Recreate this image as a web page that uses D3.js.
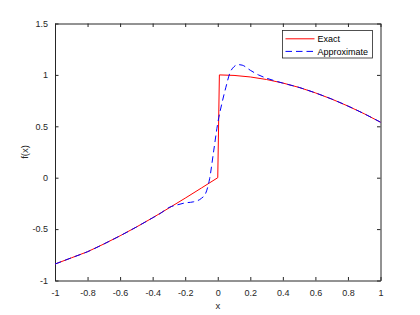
<!DOCTYPE html>
<html>
<head>
<meta charset="utf-8">
<script src="https://cdn.jsdelivr.net/npm/d3@7"></script>
<style>
  body { margin: 0; background: #fff; }
  text { font-family: "Liberation Sans", Arial, sans-serif; }
</style>
</head>
<body>
<div id="chart"></div>
<script>
// values
var exactX = [-1, -0.9, -0.8, -0.7, -0.6, -0.5, -0.4, -0.3, -0.2, -0.1, 0,
              0.01, 0.1, 0.2, 0.3, 0.4, 0.5, 0.6, 0.7, 0.8, 0.9, 1];
var exactY = [-0.84, -0.78, -0.72, -0.645, -0.565, -0.48, -0.39, -0.295, -0.199, -0.1, 0,
              1, 0.995, 0.98, 0.955, 0.921, 0.878, 0.825, 0.765, 0.697, 0.622, 0.54];

var approxX = [-1, -0.9, -0.8, -0.7, -0.6, -0.5, -0.4, -0.35, -0.3, -0.25, -0.2, -0.15, -0.1,
               -0.075, -0.05, -0.025, 0, 0.025, 0.05, 0.075, 0.1, 0.125, 0.15, 0.2, 0.25,
               0.3, 0.35, 0.4, 0.5, 0.6, 0.7, 0.8, 0.9, 1];
var approxY = [-0.84, -0.78, -0.72, -0.645, -0.565, -0.48, -0.39, -0.345, -0.29, -0.265, -0.245, -0.235, -0.2,
               -0.155, -0.01, 0.26, 0.53, 0.72, 0.88, 1.02, 1.08, 1.1, 1.095, 1.045, 1.0,
               0.968, 0.943, 0.92, 0.878, 0.825, 0.765, 0.697, 0.622, 0.54];

var xTicks = [-1, -0.8, -0.6, -0.4, -0.2, 0, 0.2, 0.4, 0.6, 0.8, 1];
var yTicks = [-1, -0.5, 0, 0.5, 1, 1.5];
var seriesNames = ["Exact", "Approximate"];

var margin = {top: 23.5, right: 39.5, bottom: 34.5, left: 55},
    width = 420 - margin.left - margin.right,
    height = 315 - margin.top - margin.bottom;

var axisColor = "#262626";

var svg = d3.select("#chart").append("svg")
    .attr("width", 420)
    .attr("height", 315);

var g = svg.append("g")
    .attr("transform", "translate(" + margin.left + "," + margin.top + ")");

var x = d3.scaleLinear().domain([-1, 1]).range([0, width]);
var y = d3.scaleLinear().domain([-1, 1.5]).range([height, 0]);

// axes (ticks inward, box on)
var fmt = function(d) { return String(d); };
g.append("g")
    .attr("transform", "translate(0," + height + ")")
    .call(d3.axisBottom(x).tickValues(xTicks).tickFormat(fmt).tickSizeInner(-3.5).tickSizeOuter(0).tickPadding(9));
g.append("g")
    .call(d3.axisTop(x).tickValues(xTicks).tickFormat("").tickSizeInner(-3.5).tickSizeOuter(0));
g.append("g")
    .call(d3.axisLeft(y).tickValues(yTicks).tickFormat(fmt).tickSizeInner(-3.5).tickSizeOuter(0).tickPadding(7));
g.append("g")
    .attr("transform", "translate(" + width + ",0)")
    .call(d3.axisRight(y).tickValues(yTicks).tickFormat("").tickSizeInner(-3.5).tickSizeOuter(0));

g.selectAll(".domain").attr("stroke", axisColor).attr("stroke-width", 1);
g.selectAll(".tick line").attr("stroke", axisColor);
g.selectAll(".tick text").attr("fill", axisColor).style("font-size", "9px");

var exactLine = d3.line()
    .x(function(d) { return x(d[0]); })
    .y(function(d) { return y(d[1]); });

var approxLine = d3.line()
    .x(function(d) { return x(d[0]); })
    .y(function(d) { return y(d[1]); })
    .curve(d3.curveMonotoneX);

var exactData = exactX.map(function(v, i) { return [v, exactY[i]]; });
var approxData = approxX.map(function(v, i) { return [v, approxY[i]]; });

g.append("path")
    .datum(exactData)
    .attr("d", exactLine)
    .attr("fill", "none")
    .attr("stroke", "#ff0000")
    .attr("stroke-width", 1);

g.append("path")
    .datum(approxData)
    .attr("d", approxLine)
    .attr("fill", "none")
    .attr("stroke", "#0000ff")
    .attr("stroke-width", 1)
    .attr("stroke-dasharray", "6.5,4");

// axis labels
svg.append("text")
    .text("x")
    .attr("x", margin.left + width / 2)
    .attr("y", 309)
    .attr("text-anchor", "middle")
    .attr("fill", axisColor)
    .style("font-size", "9.5px");

svg.append("text")
    .text("f(x)")
    .attr("transform", "translate(28," + (margin.top + height / 2) + ") rotate(-90)")
    .attr("text-anchor", "middle")
    .attr("fill", axisColor)
    .style("font-size", "9.5px");

// legend
var legend = svg.append("g").attr("transform", "translate(282.5,30.5)");
legend.append("rect")
    .attr("width", 90)
    .attr("height", 27.5)
    .attr("fill", "#fff")
    .attr("stroke", axisColor)
    .attr("stroke-width", 0.8);

var legendColors = ["#ff0000", "#0000ff"];
var legendDash = [null, "6.5,4"];
seriesNames.forEach(function(name, i) {
    var ly = 8.3 + i * 12.6;
    legend.append("line")
        .attr("x1", 3).attr("x2", 32)
        .attr("y1", ly).attr("y2", ly)
        .attr("stroke", legendColors[i])
        .attr("stroke-width", 1)
        .attr("stroke-dasharray", legendDash[i]);
    legend.append("text")
        .text(name)
        .attr("x", 35)
        .attr("y", ly + 3.3)
        .attr("fill", "#000")
        .style("font-size", "9px");
});
</script>
</body>
</html>
